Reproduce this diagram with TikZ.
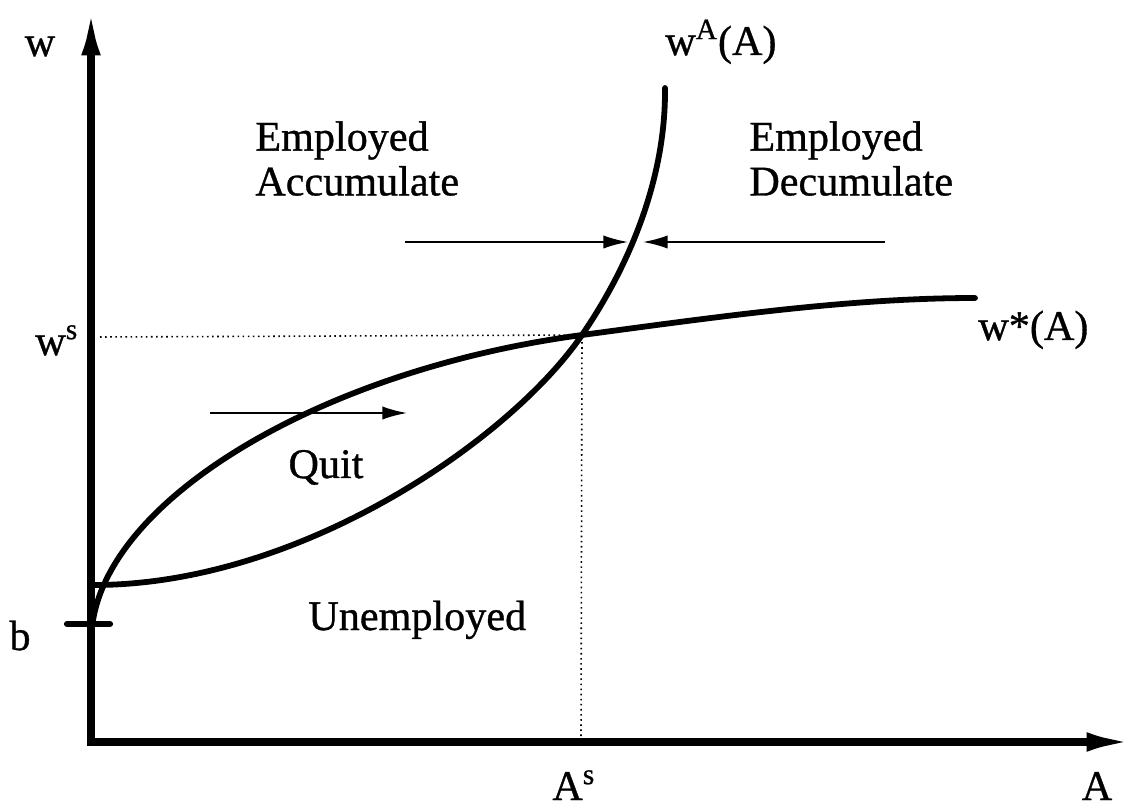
\documentclass[tikz,border=0pt]{standalone}
\usepackage{fontspec}
\setmainfont{Liberation Serif}[FakeBold=0.8]
\usetikzlibrary{arrows.meta}
\begin{document}
\begin{tikzpicture}[x=0.02cm,y=-0.02cm,
  axis/.style={line width=4.3pt,line join=miter,{Latex[length=27pt,width=11pt]}-{Latex[length=27pt,width=11pt]}},
  curve/.style={line width=3.3pt,line cap=round},
  guide/.style={line width=0.9pt,dotted},
  flow/.style={line width=0.9pt,-{Latex[length=14pt,width=7.5pt]}},
  lbl/.style={font=\fontsize{24}{25.5}\selectfont,inner sep=0pt,align=left}]
\useasboundingbox (0,0) rectangle (1136,810);
% axes
\coordinate (O) at (91,742);
\coordinate (ytop) at (91,8);
\coordinate (xend) at (1134,742);
\draw[axis] (ytop) -- (O) -- (xend);
% b tick
\coordinate (bl) at (67,624);
\coordinate (br) at (110,624);
\draw[line width=3.5pt,line cap=round] (bl) -- (br);
% intersection and guides
\coordinate (E) at (582,335);
\coordinate (Ey) at (100,337);
\coordinate (Ex) at (581,738);
\draw[guide] (Ey) -- (E) -- (Ex);
% curves
\coordinate (wA0) at (94,585);
\coordinate (wA1) at (665,88);
\draw[curve] (wA0) .. controls (300,585) and (510,440) .. (E)
                   .. controls (628,268) and (666,180) .. (wA1);
\coordinate (ws0) at (92,628);
\coordinate (ws1) at (975,298);
\draw[curve] (ws0) .. controls (105,500) and (320,370) .. (E)
                   .. controls (720,316.5) and (850,298) .. (ws1);
% flow arrows
\coordinate (a1s) at (405,242); \coordinate (a1e) at (628,242);
\coordinate (a2s) at (885,242); \coordinate (a2e) at (643,242);
\coordinate (a3s) at (210,413); \coordinate (a3e) at (407,413);
\draw[flow] (a1s) -- (a1e);
\draw[flow] (a2s) -- (a2e);
\draw[flow] (a3s) -- (a3e);
% labels
\node[lbl,anchor=base] (w) at (40,56) {w};
\node[lbl,anchor=base] (b) at (20,650) {b};
\node[lbl,anchor=base west] (ws) at (35,355) {w\textsuperscript{s}};
\node[lbl,anchor=base west] (As) at (552,800) {A\textsuperscript{s}};
\node[lbl,anchor=base] (A) at (1097,800) {A};
\node[lbl,anchor=base west] (wA) at (665,55) {w\textsuperscript{A}(A)};
\node[lbl,anchor=base west] (wstar) at (978,340) {w*(A)};
\node[lbl,anchor=north west] (acc) at (255,121) {Employed\\Accumulate};
\node[lbl,anchor=north west] (dec) at (749,121) {Employed\\Decumulate};
\node[lbl,anchor=base] (quit) at (326,478) {Quit};
\node[lbl,anchor=base west] (unemp) at (308,630) {Unemployed};
\end{tikzpicture}
\end{document}
